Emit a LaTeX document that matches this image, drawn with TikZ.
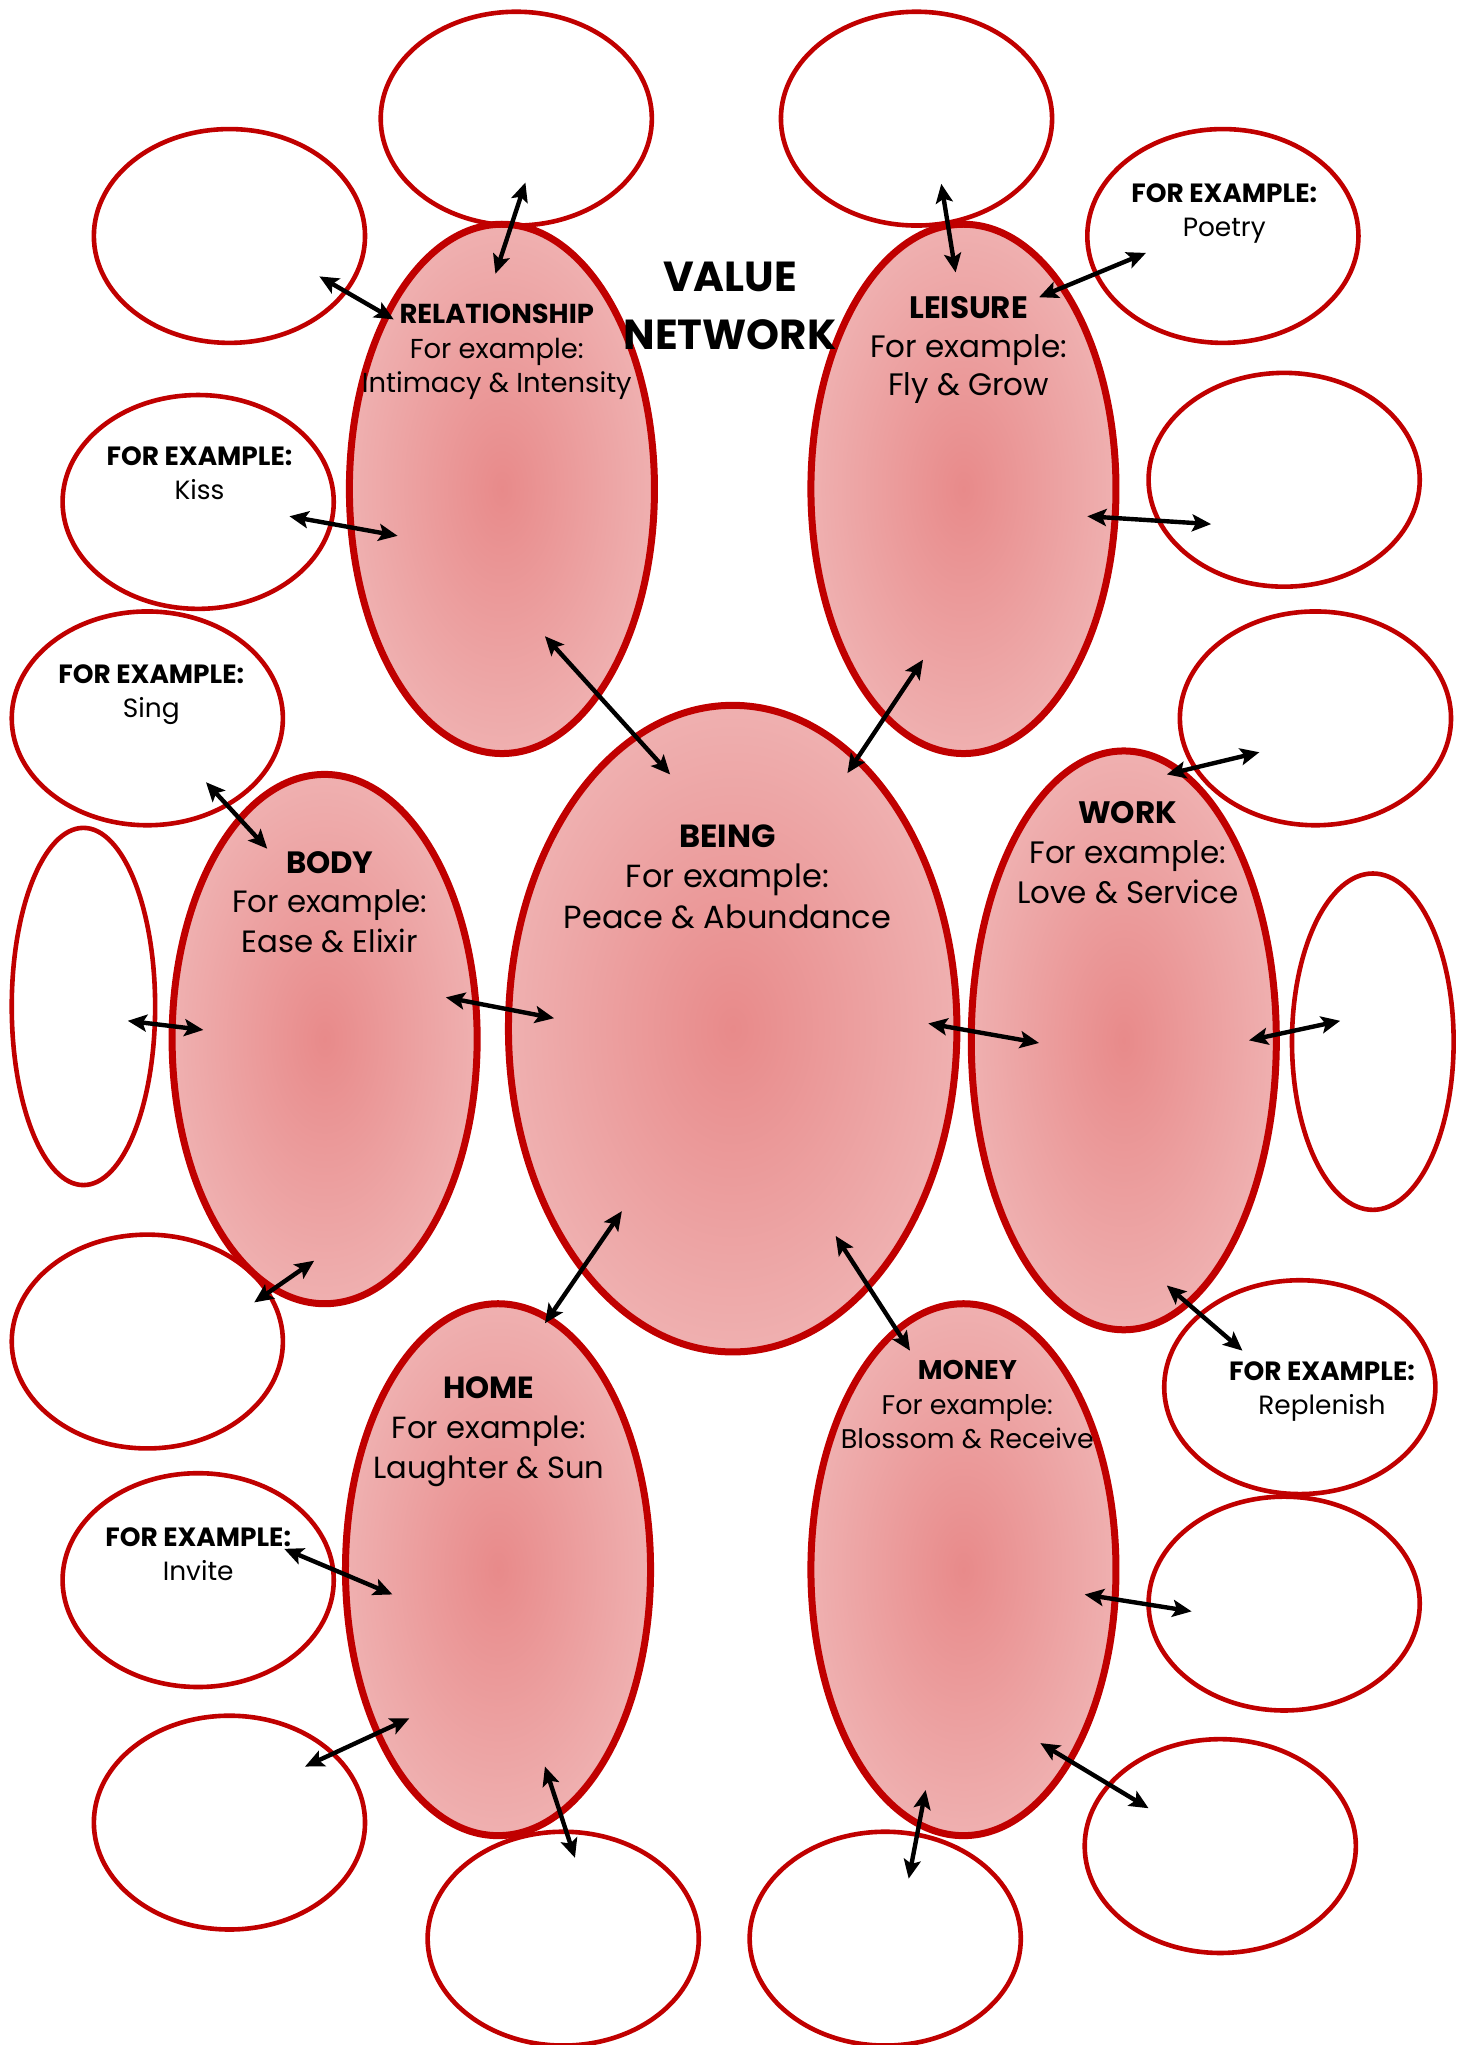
\documentclass[tikz,border=0pt]{standalone}
\usepackage{fontspec}
\setmainfont{Poppins}
\usetikzlibrary{shapes.geometric,arrows.meta}
\definecolor{vred}{RGB}{192,0,0}
\definecolor{cin}{RGB}{232,138,138}
\definecolor{cout}{RGB}{246,214,214}
\pgfdeclareradialshading{vshade}{\pgfpointorigin}{color(0bp)=(cin); color(50bp)=(cout); color(72bp)=(cout)}
\begin{document}
\begin{tikzpicture}[x=0.65185pt,y=-0.65185pt,
  big/.style 2 args={ellipse,draw=vred,line width=3.5pt,shading=vshade,minimum width=#1*1.3037pt,minimum height=#2*1.3037pt,inner sep=0pt,outer sep=0pt},
  small/.style 2 args={ellipse,draw=vred,line width=2.3pt,minimum width=#1*1.3037pt,minimum height=#2*1.3037pt,inner sep=0pt,outer sep=0pt},
  biarrow/.style={line width=2.2pt,{Stealth[length=9.5pt,width=8.5pt,inset=2pt]}-{Stealth[length=9.5pt,width=8.5pt,inset=2pt]}},
  lbl/.style={align=center,text=black,inner sep=0pt},
  ex/.style={lbl,font=\fontsize{13.2}{17}\selectfont}]
\useasboundingbox (0,0) rectangle (1126,1568.6);
% big ellipses
\node[big={117}{203}] (rel) at (385,375) {};
\node[big={117}{203}] (lei) at (739,375) {};
\node[big={172}{248}] (being) at (562,789) {};
\node[big={117}{203}] (body) at (249,797) {};
\node[big={117}{222}] (work) at (862,798) {};
\node[big={117}{204}] (home) at (382,1204) {};
\node[big={117}{204}] (money) at (739,1204) {};
% small ellipses
\node[small={104}{82}] (s1) at (396,91) {};
\node[small={104}{82}] (s2) at (703,91) {};
\node[small={104}{82}] (s3) at (176,181) {};
\node[small={104}{82}] (poetry) at (938,181) {};
\node[small={104}{82}] (kiss) at (152,385) {};
\node[small={104}{82}] (s6) at (985,368) {};
\node[small={104}{82}] (sing) at (113,551) {};
\node[small={104}{82}] (s8) at (1009,551) {};
\node[small={55}{137}] (tallL) at (64,772) {};
\node[small={62}{129}] (tallR) at (1053,799) {};
\node[small={104}{82}] (s11) at (113,1029) {};
\node[small={104}{82}] (repl) at (997,1064) {};
\node[small={104}{82}] (invite) at (152,1212) {};
\node[small={104}{82}] (s14) at (985,1230) {};
\node[small={104}{82}] (s15) at (176,1398) {};
\node[small={104}{82}] (s16) at (936,1416) {};
\node[small={104}{82}] (s17) at (432,1487) {};
\node[small={104}{82}] (s18) at (679,1487) {};
% texts
\node[lbl,font=\bfseries\fontsize{21}{29}\selectfont] (title) at (560,235) {VALUE\\NETWORK};
\node[lbl,font=\fontsize{13.7}{17.3}\selectfont] (trel) at (381,270) {\textbf{RELATIONSHIP}\\For example:\\Intimacy \& Intensity};
\node[lbl,font=\fontsize{15.5}{19.2}\selectfont] (tlei) at (743,268.5) {\textbf{LEISURE}\\For example:\\Fly \& Grow};
\node[lbl,font=\fontsize{16}{20.2}\selectfont] (tbeing) at (558,672.5) {\textbf{BEING}\\For example:\\Peace \& Abundance};
\node[lbl,font=\fontsize{15.4}{19.6}\selectfont] (tbody) at (253,692) {\textbf{BODY}\\For example:\\Ease \& Elixir};
\node[lbl,font=\fontsize{15.5}{20}\selectfont] (twork) at (865,654) {\textbf{WORK}\\For example:\\Love \& Service};
\node[lbl,font=\fontsize{15.3}{20}\selectfont] (thome) at (375,1098.5) {\textbf{HOME}\\For example:\\Laughter \& Sun};
\node[lbl,font=\fontsize{13.5}{17.3}\selectfont] (tmoney) at (742,1077.5) {\textbf{MONEY}\\For example:\\Blossom \& Receive};
\node[ex] (tpoetry) at (939,164) {\textbf{FOR EXAMPLE:}\\Poetry};
\node[ex] (tkiss) at (153,363) {\textbf{FOR EXAMPLE:}\\Kiss};
\node[ex] (tsing) at (116,532.5) {\textbf{FOR EXAMPLE:}\\Sing};
\node[ex] (trepl) at (1014,1067) {\textbf{FOR EXAMPLE:}\\Replenish};
\node[ex] (tinvite) at (152,1192) {\textbf{FOR EXAMPLE:}\\Invite};
% arrows
\foreach \i/\ax/\ay/\bx/\by in {
  1/403/140/380/210, 2/245/212/302/245, 3/222/396/305/411, 4/418/488/514/594,
  5/722/141/733/209, 6/879/194/797/228, 7/834/396/929/402, 8/708/506/650/593,
  9/158/600/205/651, 10/966/577/895/594, 11/342/765/425/781, 12/98/783/156/790,
  13/712/785/797/800, 14/958/798/1028/783, 15/241/967/195/999, 16/477/929/418/1015,
  17/641/948/698/1036, 18/895/986/953/1036, 19/218/1188/301/1223, 20/832/1223/914/1236,
  21/314/1318/234/1355, 22/798/1337/881/1387, 23/418/1355/441/1425, 24/710/1373/697/1441}{
  \coordinate (a\i) at (\ax,\ay);
  \coordinate (b\i) at (\bx,\by);
  \draw[biarrow] (a\i) -- (b\i);
}
\end{tikzpicture}
\end{document}
